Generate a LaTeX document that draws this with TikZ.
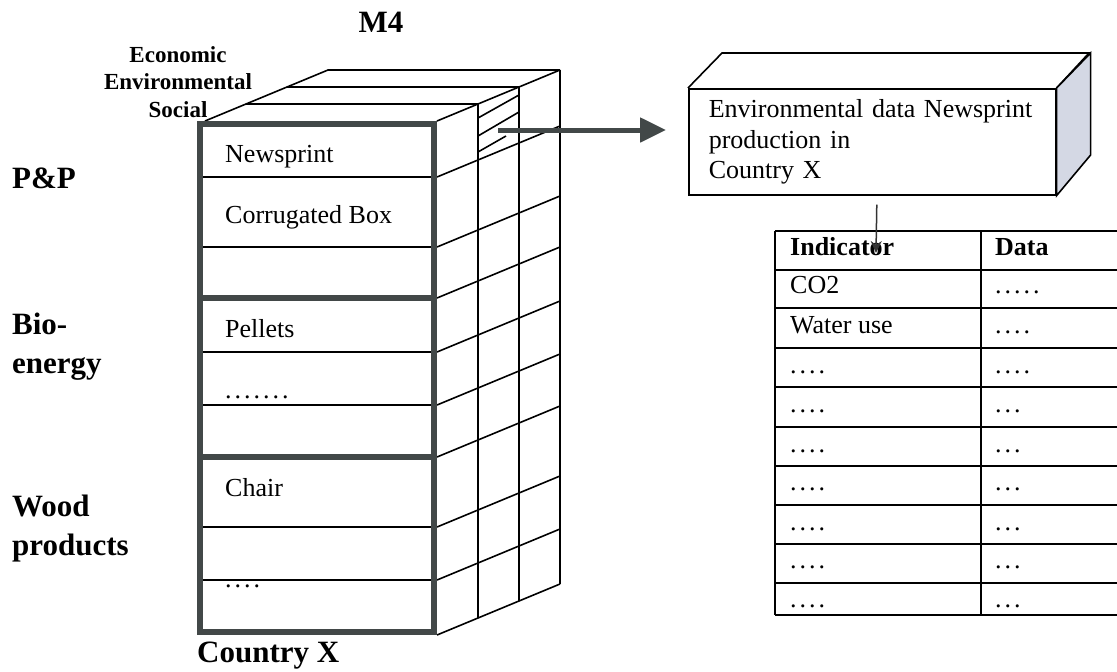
\documentclass[tikz,border=0pt]{standalone}
\usepackage{fontspec}
\setmainfont{Liberation Serif}
\usepackage{xcolor}
\usepackage{tikz}
\usetikzlibrary{arrows.meta,positioning,calc}
\definecolor{framegray}{RGB}{66,72,72}
\definecolor{sidegray}{RGB}{212,216,228}
\tikzset{
  gridline/.style={line width=1.6pt,draw=black},
  framebox/.style={line width=6pt,draw=framegray},
  celltext/.style={anchor=base west,inner sep=0pt,font=\fontsize{26}{30}\selectfont},
  rowlabel/.style={anchor=base west,inner sep=0pt,align=left,font=\bfseries\fontsize{31}{39}\selectfont},
  dimlabel/.style={anchor=base,inner sep=0pt,align=center,font=\bfseries\fontsize{23}{27.5}\selectfont},
  databox/.style={draw,line width=1.6pt,fill=white,align=left,text width=327pt,inner xsep=20pt,
    minimum width=367pt,minimum height=106pt,font=\fontsize{26}{30.5}\selectfont},
  fatarrow/.style={-{Triangle[length=26pt,width=24pt]},line width=5pt,draw=framegray,fill=framegray},
  thinarrow/.style={-{Stealth[length=12pt,width=11pt]},line width=1.5pt,draw=black!80,fill=black!80},
  tableline/.style={line width=1.5pt,draw=black}
}

\begin{document}
\begin{tikzpicture}[x=1pt,y=-1pt]
  \useasboundingbox (0,0) rectangle (1117,672);

  % top face of the cube: economic / environmental / social layers
  \draw[gridline] (205,121) -- (328,70) -- (560,70);
  \draw[gridline] (437,121) -- (560,70);
  \foreach \k in {1,2} {
    \draw[gridline] ($(205,121)+\k*(41,-17)$) -- ($(437,121)+\k*(41,-17)$);
  }
  % side face
  \foreach \k in {1,2,3} {
    \draw[gridline] ($(437,121)+\k*(41,-17)$) -- ($(437,635)+\k*(41,-17)$);
  }
  \foreach \y in {177,247,298,352,405,457,527,580,635} {
    \draw[gridline] (437,\y) -- ++(123,-51);
  }
  % hatched cell
  \draw[gridline] (478,118) -- (519,95);
  \draw[gridline] (478,136) -- (519,112);
  \draw[gridline] (478,152) -- (506,136);

  % front face
  \foreach \y in {177,247,352,405,527,580} {
    \draw[gridline] (200,\y) -- (434,\y);
  }
  \draw[framebox] (200,124) rectangle (434,632);
  \draw[framebox] (200,298) -- (434,298);
  \draw[framebox] (200,457) -- (434,457);

  \node[celltext] (newsprint) at (225,162) {Newsprint};
  \node[celltext] (corrbox) at (225,223) {Corrugated Box};
  \node[celltext] (pellets) at (225,337) {Pellets};
  \node[celltext] (biodots) at (225,398) {.\kern3pt.\kern3pt.\kern3pt.\kern3pt.\kern3pt.\kern3pt.};
  \node[celltext] (chair) at (225,496) {Chair};
  \node[celltext] (wooddots) at (225,587) {.\kern3pt.\kern3pt.\kern3pt.};

  % labels round the cube
  \node[font=\bfseries\fontsize{31}{36}\selectfont,anchor=base,inner sep=0pt] (mfour) at (381,32) {M4};
  \node[dimlabel] (dims) at (178,117) {Economic\\Environmental\\Social};
  \node[rowlabel] (pp) at (12,188) {P\&P};
  \node[rowlabel] (bio) at (12,373) {Bio-\\energy};
  \node[rowlabel] (wood) at (12,555) {Wood\\products};
  \node[rowlabel] (country) at (197,662) {Country X};

  % data box
  \node[databox,anchor=north west] (envbox) at (688,88)
    {Environmental data Newsprint\\production in\\Country X};
  \draw[line width=1.6pt] (envbox.north west) -- ++(34,-35) -- ++(367,0) -- (envbox.north east);
  \filldraw[line width=1.6pt,fill=sidegray] (envbox.north east) -- ++(34,-35) -- ++(0,102)
    -- (envbox.south east) -- cycle;

  \coordinate (cellmark) at (498,130);
  \coordinate (arrowtip) at (666,130);
  \draw[fatarrow] (cellmark) -- (arrowtip);

  % indicator table
  \foreach \y in {231,270,308,348,387,427,466,505,544,583,615} {
    \draw[tableline] (775,\y) -- (1117,\y);
  }
  \draw[tableline] (775,231) -- (775,615);
  \draw[tableline] (981,231) -- (981,615);
  \foreach \y/\ind/\dat [count=\i] in {
      255/\textbf{Indicator}/\textbf{Data},
      293/CO2/.\kern3pt.\kern3pt.\kern3pt.\kern3pt.,
      333/Water use/.\kern3pt.\kern3pt.\kern3pt.,
      373/.\kern3pt.\kern3pt.\kern3pt./.\kern3pt.\kern3pt.\kern3pt.,
      412/.\kern3pt.\kern3pt.\kern3pt./.\kern3pt.\kern3pt.,
      452/.\kern3pt.\kern3pt.\kern3pt./.\kern3pt.\kern3pt.,
      490/.\kern3pt.\kern3pt.\kern3pt./.\kern3pt.\kern3pt.,
      530/.\kern3pt.\kern3pt.\kern3pt./.\kern3pt.\kern3pt.,
      568/.\kern3pt.\kern3pt.\kern3pt./.\kern3pt.\kern3pt.,
      607/.\kern3pt.\kern3pt.\kern3pt./.\kern3pt.\kern3pt.} {
    \node[celltext] (ind\i) at (790,\y) {\ind};
    \node[celltext] (dat\i) at (995,\y) {\dat};
  }

  \coordinate (tabletip) at (876,253);
  \draw[thinarrow] ([xshift=4.5pt,yshift=-9pt]envbox.south) -- (tabletip);
\end{tikzpicture}
\end{document}
